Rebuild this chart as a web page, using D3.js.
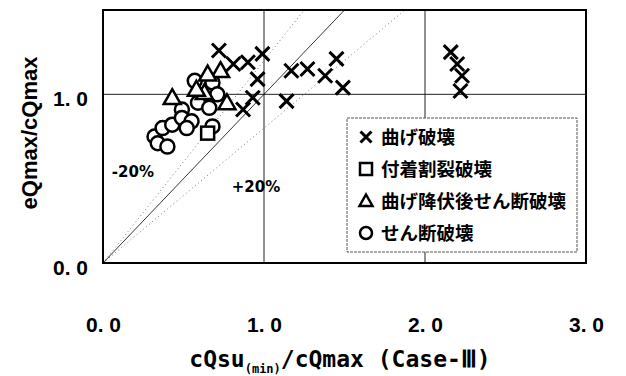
<!DOCTYPE html>
<html>
<head>
<meta charset="utf-8">
<script src="https://cdn.jsdelivr.net/npm/d3@7"></script>
<style>
  body { margin: 0; background: #fff; }
  svg { font-family: "Noto Sans CJK JP", "DejaVu Sans", sans-serif; }
</style>
</head>
<body>
<svg width="626" height="376"></svg>
<script>
// data: [cQsu(min)/cQmax, eQmax/cQmax]
var bending = [
  [0.72, 1.26], [0.81, 1.18], [0.90, 1.19], [0.99, 1.24], [0.96, 1.09],
  [0.93, 0.98], [0.87, 0.91], [1.14, 0.96], [1.17, 1.14], [1.27, 1.15],
  [1.38, 1.11], [1.45, 1.21], [1.49, 1.04],
  [2.16, 1.25], [2.20, 1.18], [2.23, 1.11], [2.22, 1.02]
];
var bondSplit = [[0.65, 0.77]];
var bendShear = [
  [0.43, 0.98], [0.63, 1.01], [0.73, 1.14], [0.65, 1.12], [0.77, 0.95], [0.58, 1.03]
];
var shear = [
  [0.32, 0.75], [0.34, 0.71], [0.40, 0.69], [0.37, 0.80], [0.43, 0.82],
  [0.49, 0.91], [0.49, 0.86], [0.55, 0.84], [0.52, 0.80], [0.59, 0.95],
  [0.66, 0.92], [0.57, 1.08], [0.68, 1.07], [0.71, 1.00], [0.68, 0.81]
];
var legendLabels = ["曲げ破壊", "付着割裂破壊", "曲げ降伏後せん断破壊", "せん断破壊"];
var xTicks = [0, 1, 2, 3];
var yTicks = [0, 1];

var svg = d3.select("svg");
var margin = { top: 10, left: 103 };
var width = 483, height = 253;

var x = d3.scaleLinear().domain([0, 3]).range([0, width]);
var y = d3.scaleLinear().domain([0, 1.5]).range([height, 0]);

var g = svg.append("g").attr("transform", "translate(" + margin.left + "," + margin.top + ")");

// grid
g.selectAll(".vgrid").data([1, 2]).enter().append("line")
  .attr("x1", d => x(d)).attr("x2", d => x(d))
  .attr("y1", 0).attr("y2", height)
  .attr("stroke", "#222").attr("stroke-width", 1);
g.append("line")
  .attr("x1", 0).attr("x2", width).attr("y1", y(1)).attr("y2", y(1))
  .attr("stroke", "#222").attr("stroke-width", 1);

// 1:1 line and +-20% lines
var line = d3.line().x(d => x(d[0])).y(d => y(d[1]));
g.append("path").datum([[0, 0], [1.5, 1.5]]).attr("d", line)
  .attr("stroke", "#000").attr("stroke-width", 0.8).attr("fill", "none");
g.append("path").datum([[0, 0], [1.25, 1.5]]).attr("d", line)
  .attr("stroke", "#777").attr("stroke-width", 1).attr("stroke-dasharray", "1,3").attr("fill", "none");
g.append("path").datum([[0, 0], [1.875, 1.5]]).attr("d", line)
  .attr("stroke", "#777").attr("stroke-width", 1).attr("stroke-dasharray", "1,3").attr("fill", "none");

g.append("text").attr("x", x(0.055)).attr("y", y(0.51))
  .attr("font-family", "DejaVu Sans").attr("font-size", 15).attr("font-weight", "bold").text("-20%");
g.append("text").attr("x", x(0.8)).attr("y", y(0.42))
  .attr("font-family", "DejaVu Sans").attr("font-size", 15).attr("font-weight", "bold").text("+20%");

// markers
function drawCross(sel, cx, cy, s) {
  sel.append("path")
    .attr("d", "M" + (cx - s) + "," + (cy - s) + "L" + (cx + s) + "," + (cy + s) +
               "M" + (cx - s) + "," + (cy + s) + "L" + (cx + s) + "," + (cy - s))
    .attr("stroke", "#000").attr("stroke-width", 3).attr("fill", "none");
}
function drawSquare(sel, cx, cy, s) {
  sel.append("rect").attr("x", cx - s).attr("y", cy - s).attr("width", 2 * s).attr("height", 2 * s)
    .attr("fill", "#fff").attr("stroke", "#000").attr("stroke-width", 2.5);
}
function drawTri(sel, cx, cy, s) {
  sel.append("path")
    .attr("d", "M" + cx + "," + (cy - s) + "L" + (cx + s) + "," + (cy + s * 0.75) + "L" + (cx - s) + "," + (cy + s * 0.75) + "Z")
    .attr("fill", "#fff").attr("stroke", "#000").attr("stroke-width", 2.5);
}
function drawCircle(sel, cx, cy, s) {
  sel.append("circle").attr("cx", cx).attr("cy", cy).attr("r", s)
    .attr("fill", "#fff").attr("stroke", "#000").attr("stroke-width", 2.5);
}

var pts = g.append("g");
shear.forEach(d => drawCircle(pts, x(d[0]), y(d[1]), 7));
bendShear.forEach(d => drawTri(pts, x(d[0]), y(d[1]), 8.5));
bondSplit.forEach(d => drawSquare(pts, x(d[0]), y(d[1]), 6.5));
bending.forEach(d => drawCross(pts, x(d[0]), y(d[1]), 7));

// frame
g.append("rect").attr("width", width).attr("height", height)
  .attr("fill", "none").attr("stroke", "#000").attr("stroke-width", 2);

// axes
var fmt = d => d3.format(".1f")(d).replace(".", ". ");
var xAxis = g.append("g").attr("transform", "translate(0," + height + ")")
  .call(d3.axisBottom(x).tickValues(xTicks).tickSize(0).tickPadding(54).tickFormat(fmt));
xAxis.select(".domain").remove();
xAxis.selectAll("text").attr("font-family", "Liberation Sans").attr("font-weight", "bold")
  .attr("font-size", 21).attr("fill", "#000");

var yAxis = g.append("g")
  .call(d3.axisLeft(y).tickValues(yTicks).tickSize(0).tickPadding(15).tickFormat(fmt));
yAxis.select(".domain").remove();
yAxis.selectAll("text").attr("font-family", "Liberation Sans").attr("font-weight", "bold")
  .attr("font-size", 21).attr("fill", "#000").attr("dy", "0.55em");

// axis titles
var xl = svg.append("text").attr("x", 340).attr("y", 367).attr("text-anchor", "middle")
  .attr("font-family", "DejaVu Sans Mono").attr("font-size", 23).attr("font-weight", "bold");
xl.append("tspan").text("cQsu");
xl.append("tspan").attr("font-size", 12).attr("dy", 6).text("(min)");
xl.append("tspan").attr("dy", -6).text("/cQmax  (Case-Ⅲ)");

svg.append("text").attr("transform", "translate(29,133) rotate(-90)")
  .attr("text-anchor", "middle").attr("dominant-baseline", "central")
  .attr("font-family", "Liberation Sans").attr("font-size", 22).attr("font-weight", "bold")
  .text("eQmax/cQmax");

// legend
var lg = svg.append("g");
lg.append("rect").attr("x", 347).attr("y", 118).attr("width", 230).attr("height", 134)
  .attr("fill", "#fff").attr("stroke", "#555").attr("stroke-width", 1).attr("stroke-dasharray", "3,1");
var drawers = [drawCross, drawSquare, drawTri, drawCircle];
var sizes = [5.5, 6, 6.5, 6];
legendLabels.forEach(function (t, i) {
  var cy = 137 + i * 32;
  drawers[i](lg, 366, cy, sizes[i]);
  lg.append("text").attr("x", 381).attr("y", cy + 7).attr("font-size", 18.5).attr("font-weight", "bold").text(t);
});
</script>
</body>
</html>
